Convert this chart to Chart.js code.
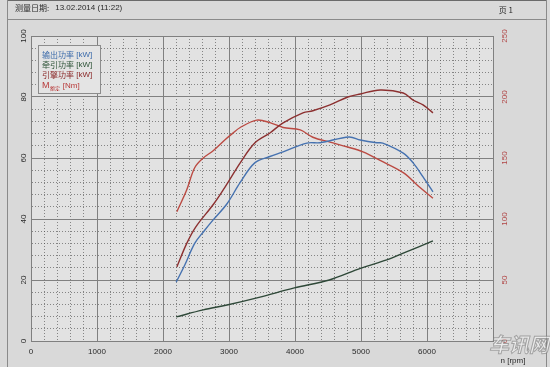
<!DOCTYPE html>
<html><head><meta charset="utf-8">
<script src="https://cdn.jsdelivr.net/npm/chart.js@4"></script>
<style>html,body{margin:0;padding:0;background:#d9d9d9;}#wrap{width:550px;height:367px;position:relative;}</style>
</head><body><div id="wrap"><canvas id="c"></canvas></div>
<script>
// ---- header texts ----
const headerLabel = '测量日期:';
const headerDate = '13.02.2014 (11:22)';
const pageLabel = '页 1';
const xAxisTitle = 'n [rpm]';

// ---- series: 输出功率 [kW] (blue) ----
const rpmOutput   = [2200, 2330, 2480, 2620, 2760, 2970, 3170, 3390, 3620, 3820, 4180, 4380, 4820, 4990, 5240, 5330, 5640, 5790, 5940, 6090];
const outputPower = [19.3, 24.9, 32.0, 36.0, 39.7, 45.0, 52.0, 58.4, 60.5, 62.0, 64.9, 65.0, 66.9, 65.9, 65.0, 64.9, 61.6, 58.4, 53.8, 48.9];

// ---- series: 牵引功率 [kW] (dark green) ----
const rpmTraction     = [2200, 2610, 2970, 3470, 3990, 4520, 5000, 5390, 5640, 6090];
const tractionPower   = [7.9, 10.2, 11.8, 14.4, 17.4, 20.0, 23.9, 26.6, 28.8, 32.8];

// ---- series: 引擎功率 [kW] (dark red) ----
const rpmEngine   = [2210, 2360, 2500, 2770, 2985, 3170, 3390, 3620, 3820, 4120, 4270, 4530, 4800, 4990, 5290, 5640, 5790, 5940, 6090];
const enginePower = [24.3, 32.0, 37.5, 45.0, 52.0, 58.4, 64.9, 68.2, 71.5, 74.8, 75.5, 77.4, 80.0, 81.0, 82.3, 81.3, 79.0, 77.4, 74.8];

// ---- series: M额定 [Nm] (red, right axis) ----
const rpmTorque = [2210, 2360, 2480, 2610, 2760, 2940, 3050, 3170, 3420, 3620, 3820, 4080, 4270, 4530, 4800, 5030, 5290, 5640, 5890, 6090];
const torqueNm  = [106, 124, 142, 150, 156, 165, 170, 175, 181, 179, 175, 173, 167, 163, 159, 155, 148, 138, 126, 117];

// ---- axes ----
const xMin = 0, xMax = 7000, xStep = 200, xLabelStep = 1000, xLabelMax = 6000;
const yMin = 0, yMax = 100, yStep = 4, yLabelStep = 20;
const y2Min = 0, y2Max = 250, y2Step = 50;

const pts = (xs, ys) => xs.map((x, i) => ({x: x, y: ys[i]}));

const SOLID = '#808080', DOT = 'rgba(70,70,70,0.6)';
const NUMFONT = '"Liberation Sans", "DejaVu Sans", sans-serif';
const CJK = '"Noto Sans CJK SC", "Noto Sans", sans-serif';

const pagePlugin = {
  id: 'page',
  beforeDraw(chart) {
    const {ctx, chartArea: a} = chart;
    ctx.save();
    ctx.fillStyle = '#d9d9d9';
    ctx.fillRect(0, 0, chart.width, chart.height);
    ctx.fillStyle = '#e2e2e2';
    ctx.fillRect(a.left, a.top, a.right - a.left, a.bottom - a.top);
    ctx.strokeStyle = '#8a8a8a';
    ctx.lineWidth = 1;
    ctx.beginPath();
    ctx.moveTo(8, 19.5); ctx.lineTo(546, 19.5);
    ctx.moveTo(7.5, 0); ctx.lineTo(7.5, 367);
    ctx.moveTo(546.5, 0); ctx.lineTo(546.5, 367);
    ctx.stroke();
    ctx.strokeStyle = '#6a6a6a';
    ctx.beginPath(); ctx.moveTo(8, 0.5); ctx.lineTo(546, 0.5); ctx.stroke();
    ctx.fillStyle = '#2a2a2a';
    ctx.textBaseline = 'middle';
    ctx.font = '8px ' + CJK;
    ctx.textAlign = 'left';
    ctx.fillText(headerLabel, 15, 8);
    const w = ctx.measureText(headerLabel).width;
    ctx.font = '8px ' + NUMFONT;
    ctx.fillText(headerDate, 15 + w + 6, 8);
    ctx.font = '8px ' + CJK;
    ctx.textAlign = 'right';
    ctx.fillText(pageLabel, 513, 10);
    ctx.restore();
  },
  afterDraw(chart) {
    const {ctx} = chart;
    ctx.save();
    // legend box
    const bx = 38, by = 45, bw = 62, bh = 48;
    ctx.fillStyle = '#e4e4e4';
    ctx.fillRect(bx, by, bw, bh);
    ctx.strokeStyle = '#8c8c8c';
    ctx.lineWidth = 1;
    ctx.strokeRect(bx + 0.5, by + 0.5, bw, bh);
    const ys = [55, 65, 75, 86];
    chart.data.datasets.forEach((ds, i) => {
      ctx.fillStyle = ds.legendColor;
      ctx.textBaseline = 'middle';
      ctx.textAlign = 'left';
      let x = 42;
      ctx.font = (ds.sub ? '9px ' + NUMFONT : '8px ' + CJK);
      ctx.fillText(ds.label, x, ys[i]);
      x += ctx.measureText(ds.label).width;
      if (ds.sub) {
        ctx.font = '5px ' + CJK;
        ctx.fillText(ds.sub, x + 0.5, ys[i] + 2.5);
        x += ctx.measureText(ds.sub).width + 1;
      }
      ctx.font = '8px ' + NUMFONT;
      ctx.fillText(' ' + ds.unit, x, ys[i]);
    });
    // x axis title
    ctx.fillStyle = '#2a2a2a';
    ctx.font = '8px ' + NUMFONT;
    ctx.textAlign = 'center';
    ctx.textBaseline = 'middle';
    ctx.fillText(xAxisTitle, 513, 361);
    // watermark
    ctx.font = 'italic bold 20px ' + CJK;
    ctx.textAlign = 'left';
    ctx.textBaseline = 'alphabetic';
    ctx.lineWidth = 1;
    ctx.fillStyle = 'rgba(250,250,250,0.55)';
    ctx.strokeStyle = 'rgba(110,110,110,0.55)';
    ctx.fillText('车讯网', 489, 352);
    ctx.strokeText('车讯网', 489, 352);
    ctx.restore();
  }
};

const gridColor = (step) => (c) => (c.tick && Math.round(c.tick.value) % step === 0) ? SOLID : DOT;
const gridDash = (step) => (c) => (c.tick && Math.round(c.tick.value) % step !== 0) ? [1, 2] : [];

new Chart(document.getElementById('c'), {
  type: 'line',
  data: {
    datasets: [
      {label: '输出功率', unit: '[kW]', legendColor: '#3a6aaa', data: pts(rpmOutput, outputPower), borderColor: '#4672b0', yAxisID: 'y'},
      {label: '牵引功率', unit: '[kW]', legendColor: '#2c5236', data: pts(rpmTraction, tractionPower), borderColor: '#2e4838', yAxisID: 'y'},
      {label: '引擎功率', unit: '[kW]', legendColor: '#8a2828', data: pts(rpmEngine, enginePower), borderColor: '#8c3030', yAxisID: 'y'},
      {label: 'M', sub: '额定', unit: '[Nm]', legendColor: '#b83a3a', data: pts(rpmTorque, torqueNm), borderColor: '#bb4a42', yAxisID: 'y2'}
    ]
  },
  options: {
    responsive: true,
    maintainAspectRatio: false,
    animation: false,
    devicePixelRatio: 1,
    layout: {padding: {top: 36, left: 0, right: 0, bottom: 0}},
    elements: {
      point: {radius: 0},
      line: {borderWidth: 1.4, tension: 0.35, fill: false}
    },
    plugins: {legend: {display: false}, tooltip: {enabled: false}, title: {display: false}},
    scales: {
      x: {
        type: 'linear', min: xMin, max: xMax,
        afterFit: s => { s.height = 26; },
        ticks: {stepSize: xStep, autoSkip: false, maxRotation: 0, minRotation: 0, padding: 6, color: '#2a2a2a',
          font: {size: 8, family: NUMFONT},
          callback: v => (Math.round(v) % xLabelStep === 0 && v <= xLabelMax ? String(v) : '')},
        grid: {color: gridColor(xLabelStep), lineWidth: 1, drawTicks: false},
        border: {display: true, color: SOLID, width: 1, dash: gridDash(xLabelStep)}
      },
      y: {
        type: 'linear', position: 'left', min: yMin, max: yMax,
        afterFit: s => { s.width = 31; },
        ticks: {stepSize: yStep, autoSkip: false, minRotation: 90, maxRotation: 90, crossAlign: 'center', padding: 1,
          color: '#2a2a2a', font: {size: 8, family: NUMFONT},
          callback: v => (Math.round(v) % yLabelStep === 0 ? String(v) : '')},
        grid: {color: gridColor(yLabelStep), lineWidth: 1, drawTicks: false},
        border: {display: true, color: SOLID, width: 1, dash: gridDash(yLabelStep)}
      },
      y2: {
        type: 'linear', position: 'right', min: y2Min, max: y2Max,
        afterFit: s => { s.width = 57; },
        ticks: {stepSize: y2Step, autoSkip: false, minRotation: 90, maxRotation: 90, crossAlign: 'center', padding: 5,
          color: '#b04545', font: {size: 8, family: NUMFONT}},
        grid: {drawOnChartArea: false, drawTicks: false},
        border: {display: true, color: SOLID, width: 1}
      }
    }
  },
  plugins: [pagePlugin]
});
</script>
</body></html>
